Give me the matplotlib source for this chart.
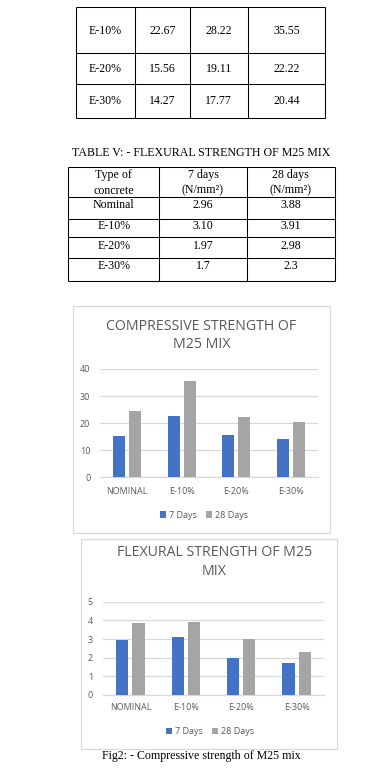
import matplotlib
matplotlib.use("Agg")
import matplotlib.pyplot as plt
from matplotlib.patches import Rectangle, Patch

# ---------------- data ----------------
categories = ["NOMINAL", "E-10%", "E-20%", "E-30%"]
comp_7 = [15.4, 22.67, 15.56, 14.27]
comp_28 = [24.67, 35.55, 22.22, 20.44]
flex_7 = [2.96, 3.10, 1.97, 1.7]
flex_28 = [3.88, 3.91, 2.98, 2.3]
series_labels = ["7 Days", "28 Days"]

t4_rows = ["E-10%", "E-20%", "E-30%"]
t4_vals = [["22.67", "28.22", "35.55"],
           ["15.56", "19.11", "22.22"],
           ["14.27", "17.77", "20.44"]]

t5_title = "TABLE V: - FLEXURAL STRENGTH OF M25 MIX"
t5_header = ["Type of\nconcrete", "7 days\n(N/mm\u00b2)", "28 days\n(N/mm\u00b2)"]
t5_rows = ["Nominal", "E-10%", "E-20%", "E-30%"]
t5_vals = [["2.96", "3.88"], ["3.10", "3.91"], ["1.97", "2.98"], ["1.7", "2.3"]]

caption = "Fig2: - Compressive strength of M25 mix"

BLUE = "#4472C4"
GRAY = "#A5A5A5"
TXT = "#595959"
GRID = "#D9D9D9"
W, H = 371, 770
SERIF = "Liberation Serif"
SANS = "Open Sans"

fig = plt.figure(figsize=(W / 100, H / 100), dpi=100)
bg = fig.add_axes([0, 0, 1, 1])
bg.set_xlim(0, W)
bg.set_ylim(H, 0)
bg.axis("off")

def hline(y, x0, x1, c="black", lw=0.75):
    bg.plot([x0, x1], [y, y], color=c, lw=lw, solid_capstyle="butt")

def vline(x, y0, y1, c="black", lw=0.75):
    bg.plot([x, x], [y0, y1], color=c, lw=lw, solid_capstyle="butt")

# ---------------- table IV (continued) ----------------
t4_x = [76, 134.7, 190, 247.7, 325]
t4_y = [7.3, 53.3, 84.3, 118.3]
t4_text_y = [31, 69, 101]
for y in t4_y:
    hline(y, t4_x[0], t4_x[-1])
for x in t4_x:
    vline(x, t4_y[0], t4_y[-1])
for i, r in enumerate(t4_rows):
    cells = [r] + t4_vals[i]
    for j, c in enumerate(cells):
        xc = (t4_x[j] + t4_x[j + 1]) / 2
        bg.text(xc, t4_text_y[i], c, ha="center", va="center",
                family=SERIF, fontsize=8.6, color="black")

# ---------------- table V ----------------
bg.text(201.5, 153, t5_title, ha="center", va="center", family=SERIF,
        fontsize=8.6, color="black")
t5_x = [68.3, 159.3, 246.7, 335]
t5_y = [167.3, 197, 219, 237, 258, 280.7]
for y in t5_y:
    hline(y, t5_x[0], t5_x[-1])
for x in t5_x:
    vline(x, t5_y[0], t5_y[-1])
for j, h in enumerate(t5_header):
    xc = (t5_x[j] + t5_x[j + 1]) / 2
    l1, l2 = h.split("\n")
    bg.text(xc, 175, l1, ha="center", va="center", family=SERIF, fontsize=8.6)
    bg.text(xc, 190.5, l2, ha="center", va="center", family=SERIF, fontsize=8.6)
t5_text_y = [204.5, 226, 246, 266]
for i, r in enumerate(t5_rows):
    cells = [r] + t5_vals[i]
    for j, c in enumerate(cells):
        xc = (t5_x[j] + t5_x[j + 1]) / 2
        bg.text(xc, t5_text_y[i], c, ha="center", va="center",
                family=SERIF, fontsize=8.6)

# ---------------- charts ----------------
def chart(box, plot, title_lines, title_y, title_x, v7, v28, ymax, step,
          cat_y, leg_xy):
    bx0, by0, bx1, by1 = box
    bg.add_patch(Rectangle((bx0, by0), bx1 - bx0, by1 - by0, fill=False,
                           edgecolor=GRID, lw=0.9))
    px0, py_top, px1, py0 = plot
    ax = fig.add_axes([px0 / W, 1 - py0 / H, (px1 - px0) / W,
                       (py0 - py_top) / H])
    ax.set_facecolor("none")
    x = list(range(len(categories)))
    wid = 0.22
    off = 0.146
    ax.bar([i - off for i in x], v7, width=wid, color=BLUE, zorder=3)
    ax.bar([i + off for i in x], v28, width=wid, color=GRAY, zorder=3)
    ax.set_xlim(-0.5, len(categories) - 0.5)
    ax.set_ylim(0, ymax)
    ticks = list(range(0, ymax + 1, step))
    ax.set_yticks(ticks)
    ax.set_yticklabels([str(t) for t in ticks], family=SANS, fontsize=6.5,
                       color=TXT)
    ax.yaxis.grid(True, color=GRID, lw=0.9, zorder=0)
    ax.set_axisbelow(True)
    for s in ["top", "right", "left"]:
        ax.spines[s].set_visible(False)
    ax.spines["bottom"].set_color(GRID)
    ax.spines["bottom"].set_linewidth(0.9)
    ax.tick_params(axis="both", length=0, pad=7)
    ax.set_xticks(x)
    ax.set_xticklabels([])
    for i, c in enumerate(categories):
        xc = px0 + (i + 0.5) * (px1 - px0) / len(categories)
        bg.text(xc, cat_y, c, ha="center", va="center", family=SANS,
                fontsize=6.5, color=TXT)
    for k, t in enumerate(title_lines):
        bg.text(title_x, title_y[k], t, ha="center", va="center",
                family=SANS, fontsize=10.2, color=TXT)
    handles = [Patch(facecolor=BLUE, label=series_labels[0]),
               Patch(facecolor=GRAY, label=series_labels[1])]
    fig.legend(handles=handles, loc="center",
               bbox_to_anchor=(leg_xy[0] / W, 1 - leg_xy[1] / H), ncol=2,
               frameon=False, prop={"family": SANS, "size": 6.5},
               labelcolor=TXT, handlelength=0.7, handleheight=0.7,
               handletextpad=0.3, columnspacing=1.0, borderpad=0)
    return ax

chart((73, 306, 330, 533), (100, 369, 318, 477.3),
      ["COMPRESSIVE STRENGTH OF", "M25 MIX"], [326, 345], 201.5,
      comp_7, comp_28, 40, 10, 492, (203.7, 515))

chart((80.7, 539.3, 337.3, 748.7), (102.7, 601.7, 324.3, 695),
      ["FLEXURAL STRENGTH OF M25", "MIX"], [552.3, 571.7], 214.5,
      flex_7, flex_28, 5, 1, 708, (210, 731.7))

bg.text(201, 756.5, caption, ha="center", va="center", family=SERIF,
        fontsize=8.6, color="black")

fig.savefig("out.png", dpi=100)
